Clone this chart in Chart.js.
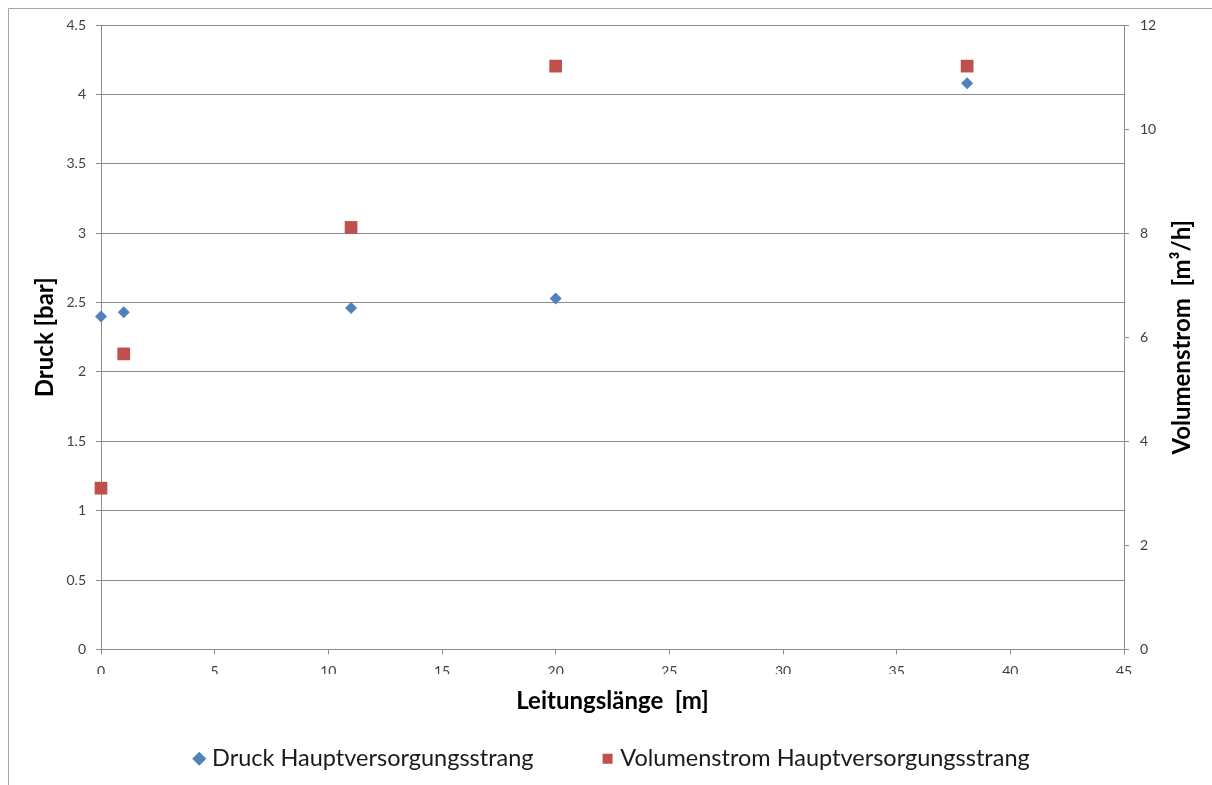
<!DOCTYPE html>
<html><head><meta charset="utf-8">
<script src="https://cdn.jsdelivr.net/npm/chart.js@4.4.1/dist/chart.umd.min.js"></script>
<style>html,body{margin:0;padding:0;background:#fff}#wrap{width:1212px;height:785px;position:relative}</style>
</head><body><div id="wrap"><canvas id="c" width="1212" height="785"></canvas></div>
<script>
const lengthM = [0, 1, 11, 20, 38.1];
const druckBar = [2.40, 2.43, 2.46, 2.53, 4.08];
const volumenstrom = [3.10, 5.68, 8.11, 11.21, 11.21];
const seriesNames = ['Druck Hauptversorgungsstrang', 'Volumenstrom Hauptversorgungsstrang'];
const axisTitles = {x: 'Leitungslänge  [m]', y: 'Druck [bar]', y2: 'Volumenstrom  [m³/h]'};

const FONT = 'Lato, "Liberation Sans", sans-serif';
const GRID = '#8c8c8c';
const TXT = '#404040';
const TITLE_FONT = {family: FONT, size: 24, weight: 'bold'};

const frame = {
  id: 'frame',
  beforeDraw(chart) {
    const ctx = chart.ctx;
    ctx.save();
    ctx.fillStyle = '#fff';
    ctx.fillRect(0, 0, chart.width, chart.height);
    ctx.strokeStyle = '#a6a6a6';
    ctx.lineWidth = 1;
    ctx.beginPath();
    ctx.moveTo(8.5, chart.height);
    ctx.lineTo(8.5, 8.5);
    ctx.lineTo(chart.width, 8.5);
    ctx.stroke();
    ctx.restore();
  },
  afterDraw(chart) {
    // right axis title, reading bottom-to-top like the left one
    const ctx = chart.ctx;
    const a = chart.chartArea;
    ctx.save();
    ctx.translate(1182, (a.top + a.bottom) / 2);
    ctx.rotate(-Math.PI / 2);
    ctx.textAlign = 'center';
    ctx.textBaseline = 'middle';
    ctx.fillStyle = '#000';
    ctx.font = 'bold 24px ' + FONT;
    ctx.fillText(axisTitles.y2, 0, 0);
    ctx.restore();
  }
};

new Chart(document.getElementById('c'), {
  type: 'scatter',
  data: {
    datasets: [
      {
        label: seriesNames[0],
        data: lengthM.map((x, i) => ({x, y: druckBar[i]})),
        yAxisID: 'y',
        pointStyle: 'rectRot',
        pointRadius: 6,
        backgroundColor: '#4F81BD',
        borderColor: '#4F81BD',
        borderWidth: 0,
        clip: false
      },
      {
        label: seriesNames[1],
        data: lengthM.map((x, i) => ({x, y: volumenstrom[i]})),
        yAxisID: 'y2',
        pointStyle: 'rect',
        pointRadius: 9,
        backgroundColor: '#C0504D',
        borderColor: '#C0504D',
        borderWidth: 0,
        clip: false
      }
    ]
  },
  options: {
    responsive: false,
    animation: false,
    devicePixelRatio: 1,
    layout: {padding: {top: 25, left: 16, right: 0, bottom: 4.5}},
    plugins: {
      tooltip: {enabled: false},
      legend: {
        position: 'bottom',
        labels: {
          usePointStyle: true,
          boxWidth: 2, boxHeight: 10,
          padding: 73,
          color: '#1a1a1a',
          font: {family: FONT, size: 23.5}
        }
      }
    },
    scales: {
      x: {
        type: 'linear', min: 0, max: 45,
        ticks: {stepSize: 5, color: TXT, font: {family: FONT, size: 14}, padding: 9},
        grid: {drawOnChartArea: false, drawTicks: true, tickLength: 5, color: GRID},
        border: {color: GRID},
        title: {display: true, text: axisTitles.x, color: '#000', font: TITLE_FONT, padding: {top: 0, bottom: -42}},
        afterFit(s) { s.height = 24.5; }
      },
      y: {
        position: 'left', min: 0, max: 4.5,
        ticks: {stepSize: 0.5, color: TXT, font: {family: FONT, size: 14}, padding: 10, callback: v => String(v)},
        grid: {color: GRID, tickLength: 5},
        border: {color: GRID},
        title: {display: true, text: axisTitles.y, color: '#000', font: TITLE_FONT, padding: {top: 15, bottom: 0}},
        afterFit(s) { s.width = 85; }
      },
      y2: {
        position: 'right', min: 0, max: 12,
        ticks: {stepSize: 2, color: TXT, font: {family: FONT, size: 14}, padding: 11, callback: v => String(v)},
        grid: {drawOnChartArea: false, tickLength: 5, color: GRID},
        border: {color: GRID},
        title: {display: false},
        afterFit(s) { s.width = 88; }
      }
    }
  },
  plugins: [frame]
});
</script></body></html>
